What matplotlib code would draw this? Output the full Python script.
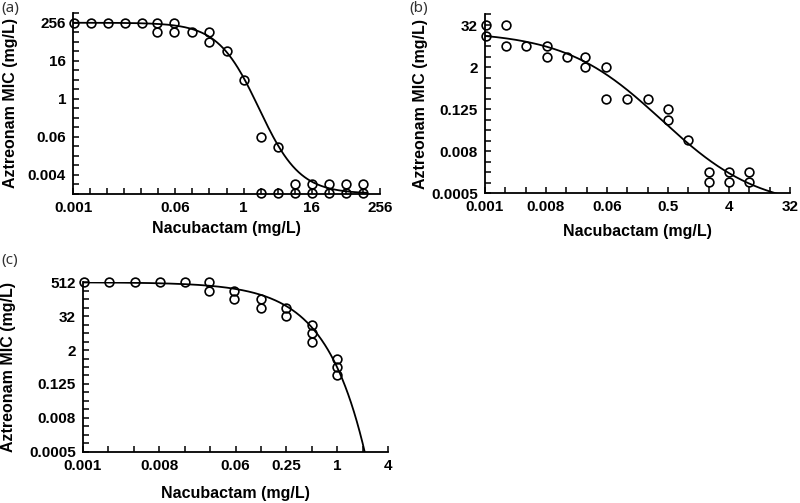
import numpy as np
import matplotlib.pyplot as plt
from matplotlib.ticker import FixedLocator, NullFormatter

plt.rcParams['font.family'] = ['Liberation Sans', 'DejaVu Sans']
plt.rcParams['font.weight'] = 'bold'

## Data (x = Nacubactam mg/L, y = Aztreonam MIC mg/L)
# panel (a)
xa = [0.001, 0.002, 0.004, 0.008, 0.016, 0.03, 0.03, 0.06, 0.06, 0.125, 0.25, 0.25,
      0.5, 1, 2, 2, 4, 4, 8, 8, 16, 16, 32, 32, 64, 64, 128, 128]
ya = [256, 256, 256, 256, 256, 256, 128, 256, 128, 128, 128, 64,
      32, 4, 0.06, 0.001, 0.03, 0.001, 0.002, 0.001, 0.002, 0.001, 0.002, 0.001,
      0.002, 0.001, 0.002, 0.001]
# panel (b)
xb = [0.001, 0.001, 0.002, 0.002, 0.004, 0.008, 0.008, 0.016, 0.03, 0.03,
      0.06, 0.06, 0.125, 0.25, 0.5, 0.5, 1, 2, 2, 4, 4, 8, 8]
yb = [32, 16, 32, 8, 8, 8, 4, 4, 4, 2,
      2, 0.25, 0.25, 0.25, 0.125, 0.06, 0.016, 0.002, 0.001, 0.002, 0.001, 0.002, 0.001]
# panel (c)
xc = [0.001, 0.002, 0.004, 0.008, 0.016, 0.03, 0.03, 0.06, 0.06, 0.125, 0.125,
      0.25, 0.25, 0.5, 0.5, 0.5, 1, 1, 1]
yc = [512, 512, 512, 512, 512, 512, 256, 256, 128, 128, 64,
      64, 32, 16, 8, 4, 1, 0.5, 0.25]

# fitted curves (log2 space): top, bottom, midpoint log2(x), slope
fit_a = [8.0, -10.0, 0.9, 1.2]
fit_b = [4.4, -12.5, -1.3, 0.6]
# panel (c): log2(MIC) = top - k * x**p
fit_c = [9.0, 10.1, 0.92]

# axis ranges (log2 exponents) and tick labels
xlim_a, ylim_a = (-10, 8), (-10, 9)
xlim_b, ylim_b = (-10, 5), (-11, 6)
xlim_c, ylim_c = (-10, 2), (-11, 9)
xt_a = ['0.001', '0.06', '1', '16', '256'];          xt_a_pos = [-10, -4, 0, 4, 8]
yt_a = ['0.004', '0.06', '1', '16', '256'];          yt_a_pos = [-8, -4, 0, 4, 8]
xt_b = ['0.001', '0.008', '0.06', '0.5', '4', '32']; xt_b_pos = [-10, -7, -4, -1, 2, 5]
yt_b = ['0.0005', '0.008', '0.125', '2', '32'];      yt_b_pos = [-11, -7, -3, 1, 5]
xt_c = ['0.001', '0.008', '0.06', '0.25', '1', '4']; xt_c_pos = [-10, -7, -4, -2, 0, 2]
yt_c = ['0.0005', '0.008', '0.125', '2', '32', '512']; yt_c_pos = [-11, -7, -3, 1, 5, 9]


def logistic(u, p):
	top, bot, mid, h = p
	return bot + (top - bot) / (1 + 2.0**(h*(u - mid)))


fig = plt.figure(figsize=(8, 5.03), dpi=100)
ax1 = fig.add_axes([0.09125, 0.6149, 0.38375, 0.3588])
ax2 = fig.add_axes([0.60625, 0.6157, 0.38125, 0.3555])
ax3 = fig.add_axes([0.1034, 0.1020, 0.3820, 0.3368])


def style(ax, xlim, ylim, xt, xpos, yt, ypos):
	ax.set_xscale('log', base=2)
	ax.set_yscale('log', base=2)
	ax.set_xlim(2.0**xlim[0], 2.0**xlim[1])
	ax.set_ylim(2.0**ylim[0], 2.0**ylim[1])
	ax.xaxis.set_major_locator(FixedLocator([2.0**k for k in xpos]))
	ax.yaxis.set_major_locator(FixedLocator([2.0**k for k in ypos]))
	ax.set_xticklabels(xt, fontweight='bold', fontsize=11)
	ax.set_yticklabels(yt, fontweight='bold', fontsize=11)
	ax.xaxis.set_minor_locator(FixedLocator([2.0**k for k in range(xlim[0], xlim[1]+1)]))
	ax.yaxis.set_minor_locator(FixedLocator([2.0**k for k in range(ylim[0], ylim[1]+1)]))
	ax.xaxis.set_minor_formatter(NullFormatter())
	ax.yaxis.set_minor_formatter(NullFormatter())
	ax.tick_params(which='both', direction='in', length=4, width=1.1)
	ax.tick_params(axis='x', pad=5)
	ax.tick_params(axis='y', pad=5)
	for s in ['top', 'right']:
		ax.spines[s].set_visible(False)
	for s in ['left', 'bottom']:
		ax.spines[s].set_linewidth(1.3)
	ax.set_xlabel('Nacubactam (mg/L)', fontsize=11.5, fontweight='bold')
	ax.set_ylabel('Aztreonam MIC (mg/L)', fontsize=11.5, fontweight='bold')
	ax.xaxis.label.set_va('center')
	ax.yaxis.label.set_va('center')


mk = dict(marker='o', ls='none', ms=6.3, mfc='none', mec='k', mew=1.2, clip_on=False, zorder=3)

# (a)
u = np.linspace(-10, 7.2, 300)
ax1.plot(2.0**u, 2.0**logistic(u, fit_a), 'k-', lw=1.3)
ax1.plot(xa, ya, **mk)
style(ax1, xlim_a, ylim_a, xt_a, xt_a_pos, yt_a, yt_a_pos)
ax1.xaxis.set_label_coords(0.5, -0.191)
ax1.yaxis.set_label_coords(-0.205, 0.5)

# (b)
u = np.linspace(-10, 5, 300)
ax2.plot(2.0**u, 2.0**logistic(u, fit_b), 'k-', lw=1.3)
ax2.plot(xb, yb, **mk)
style(ax2, xlim_b, ylim_b, xt_b, xt_b_pos, yt_b, yt_b_pos)
ax2.xaxis.set_label_coords(0.5, -0.216)
ax2.yaxis.set_label_coords(-0.213, 0.5)

# (c)
xx = 2.0**np.linspace(-10, 1.3, 400)
ax3.plot(xx, 2.0**(fit_c[0] - fit_c[1]*xx**fit_c[2]), 'k-', lw=1.3)
ax3.plot(xc, yc, **mk)
style(ax3, xlim_c, ylim_c, xt_c, xt_c_pos, yt_c, yt_c_pos)
ax3.xaxis.set_label_coords(0.5, -0.247)
ax3.yaxis.set_label_coords(-0.243, 0.5)

# panel letters
for (px, py, lab) in [(0.002, 0.998, '(a)'), (0.512, 0.998, '(b)'), (0.002, 0.497, '(c)')]:
	fig.text(px, py, lab, ha='left', va='top', fontsize=11, color='#333333',
			 family=['Noto Sans', 'DejaVu Sans'], fontweight='light')

fig.savefig('out.png', dpi=100)
